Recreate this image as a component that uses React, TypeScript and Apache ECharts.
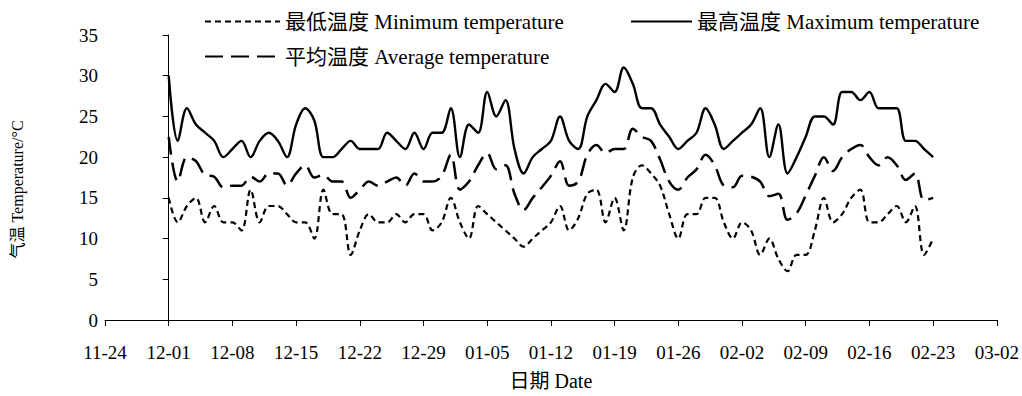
import React, { useEffect, useRef } from "react";
import * as echarts from "echarts";

const xTickLabels = ["11-24", "12-01", "12-08", "12-15", "12-22", "12-29", "01-05", "01-12", "01-19", "01-26", "02-02", "02-09", "02-16", "02-23", "03-02"];

// daily values, 12-01 .. 02-23
const minTemp = [15, 12, 14, 15, 12, 14, 12, 12, 11, 16, 12, 14, 14, 13, 12, 12, 10, 16, 13, 13, 8, 11, 13, 12, 12, 13, 12, 13, 13, 11, 12, 15, 12, 10, 14, 13, 12, 11, 10, 9, 10, 11, 12, 14, 11, 12.5, 15.5, 16, 12, 15, 11, 17.5, 19, 18, 16.5, 13, 10, 13, 13, 15, 15, 12, 10, 12, 11, 8, 10, 7.5, 6, 8, 8, 11, 15, 12, 13, 15, 16, 12, 12, 13, 14, 12, 14, 8, 10];
const maxTemp = [30, 22, 26, 24, 23, 22, 20, 21, 22, 20, 22, 23, 22, 20, 24, 26, 24.5, 20, 20, 21, 22, 21, 21, 21, 23, 22, 21, 23, 21, 23, 23, 26, 20, 24, 23, 28, 25, 27, 21, 18, 20, 21, 22, 25, 22, 21, 25, 27, 29, 28, 31, 29, 26, 26, 24, 22.5, 21, 22, 23, 26, 24, 21, 22, 23, 24, 26, 20, 24, 18, 20, 22.5, 25, 25, 24, 28, 28, 27, 28, 26, 26, 26, 22, 22, 21, 20];
const avgTemp = [22.5, 17, 20, 19.5, 17.8, 17.6, 16.3, 16.5, 16.5, 17.6, 17, 18, 18, 16.5, 18, 19, 17.5, 17.8, 17, 17, 15, 16, 17, 16.5, 17, 17.5, 16.5, 18, 17, 17, 17.7, 20.3, 16, 17, 19, 20.5, 18.5, 19, 15.5, 13.5, 15, 16.3, 17.7, 19.5, 16.5, 17, 20.3, 21.5, 20.5, 21, 21, 23.5, 22.5, 22, 19.7, 17, 16, 17.5, 18.5, 20.3, 19, 16.5, 16.3, 17.7, 17.6, 17, 15.2, 15.5, 12.3, 13.1, 15.3, 17.7, 20, 18.3, 20, 21, 21.5, 20, 19, 20, 19, 17.2, 18, 14.7, 15];

const seriesNames = ["最低温度 Minimum temperature", "最高温度 Maximum temperature", "平均温度 Average temperature"];
const xName = "日期 Date";
const yName = "气温 Temperature/°C";

const FONT = "'Liberation Serif', 'Times New Roman', 'Noto Sans CJK SC', serif";

const toPairs = (arr: number[]) => arr.map((v, i) => [i, v]);

export default function App() {
  const ref = useRef<HTMLDivElement>(null);
  useEffect(() => {
    if (!ref.current) return;
    const chart = echarts.init(ref.current, undefined, { renderer: "svg" });
    const legendBase = {
      orient: "horizontal" as const,
      padding: 0,
      itemHeight: 14,
      itemGap: 4,
      textStyle: { color: "#000", fontSize: 21, fontFamily: FONT },
      itemStyle: { opacity: 0 },
      lineStyle: { opacity: 1 },
      selectedMode: false,
    };
    chart.setOption({
      animation: false,
      backgroundColor: "#fff",
      grid: { left: 105, right: 24, top: 35, bottom: 70, containLabel: false },
      legend: [
        { ...legendBase, left: 204, top: 11, itemWidth: 75, data: [seriesNames[0]] },
        { ...legendBase, left: 630, top: 11, itemWidth: 61, data: [seriesNames[1]] },
        { ...legendBase, left: 204, top: 46, itemWidth: 75, data: [seriesNames[2]] },
      ],
      xAxis: {
        type: "value",
        min: -7,
        max: 91,
        interval: 7,
        name: xName,
        nameLocation: "middle",
        nameGap: 51,
        nameTextStyle: { color: "#000", fontSize: 20, fontFamily: FONT },
        axisLine: { show: true, lineStyle: { color: "#000", width: 1 } },
        axisTick: { show: true, length: 6, lineStyle: { color: "#000" } },
        splitLine: { show: false },
        axisLabel: {
          color: "#000",
          fontSize: 19,
          fontFamily: FONT,
          margin: 23,
          formatter: (v: number) => xTickLabels[Math.round((v + 7) / 7)] ?? "",
        },
      },
      yAxis: {
        type: "value",
        min: 0,
        max: 35,
        interval: 5,
        name: yName,
        nameLocation: "middle",
        nameGap: 80,
        nameTextStyle: { color: "#000", fontSize: 16, fontFamily: FONT, padding: [0, 24, 0, 0] },
        axisLine: { show: true, lineStyle: { color: "#000", width: 1 } },
        axisTick: { show: true, length: 6, lineStyle: { color: "#000" } },
        splitLine: { show: false },
        axisLabel: { color: "#000", fontSize: 19, fontFamily: FONT, margin: 7 },
      },
      series: [
        {
          name: seriesNames[0],
          type: "line",
          data: toPairs(minTemp),
          smooth: 0.35,
          symbol: "none",
          lineStyle: { color: "#000", width: 2.2, type: [6, 4] },
          itemStyle: { color: "#000" },
        },
        {
          name: seriesNames[1],
          type: "line",
          data: toPairs(maxTemp),
          smooth: 0.35,
          symbol: "none",
          lineStyle: { color: "#000", width: 2.4, type: "solid" },
          itemStyle: { color: "#000" },
        },
        {
          name: seriesNames[2],
          type: "line",
          data: toPairs(avgTemp),
          smooth: 0.35,
          symbol: "none",
          lineStyle: { color: "#000", width: 2.5, type: [18, 8] },
          itemStyle: { color: "#000" },
        },
      ],
    });
    return () => chart.dispose();
  }, []);
  return <div ref={ref} style={{ width: 1022, height: 396, position: "absolute", left: 0, top: 0 }} />;
}
